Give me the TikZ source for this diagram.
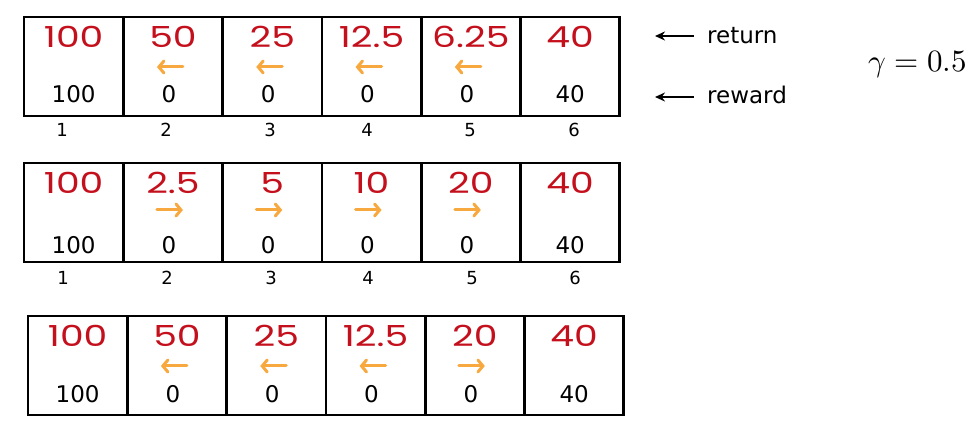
\documentclass[tikz,border=0pt]{standalone}
\usepackage{unicode-math}
\setmainfont{DejaVu Sans}
\setmathfont{Latin Modern Math}
\newfontfamily\handfont{Poppins}[FakeStretch=1.3]
\usetikzlibrary{arrows.meta}
\definecolor{hred}{RGB}{196,16,28}
\definecolor{horange}{RGB}{247,168,62}
\newcommand\drawrow[6]{%
  \foreach \c/\rt/\rw/\dr in {#6}{%
    \pgfmathsetmacro\cx{#2+(\c-0.5)*99.3}
    \node[cell] (r#1c\c) at (\cx,#3+49.5) {};
    \node[ret] (r#1c\c t) at (\cx,#3+20) {\rt};
    \ifnum\dr=0
      \node[rew] (r#1c\c w) at (\cx,#5) {\rw};
    \else
      \node[rew] (r#1c\c w) at (\cx-4,#5) {\rw};
      \draw[oarr] (\cx-3-\dr*13,#4) -- (\cx-3+\dr*13,#4);
    \fi
  }}
\begin{document}
\begin{tikzpicture}[x=1pt,y=-1pt,
  cell/.style={draw,line width=2.8pt,minimum width=99.3pt,minimum height=99pt,inner sep=0pt},
  ret/.style={font=\handfont\fontsize{29}{29}\selectfont,text=hred,inner sep=0pt},
  rew/.style={font=\fontsize{23}{23}\selectfont,inner sep=0pt},
  idx/.style={font=\fontsize{18}{18}\selectfont,inner sep=0pt},
  lbl/.style={font=\fontsize{23}{23}\selectfont,inner sep=0pt,anchor=base west},
  oarr/.style={draw=horange,line width=3pt,line cap=round,-{Straight Barb[length=5pt,width=12pt,line cap=round]}},
  karr/.style={draw,line width=2pt,-{Stealth[length=10pt,width=9pt]}}]
\useasboundingbox (0,0) rectangle (975,430);
\drawrow{1}{24}{17}{67}{94.5}{1/100/100/0,2/50/0/-1,3/25/0/-1,4/12.5/0/-1,5/6.25/0/-1,6/40/40/0}
\drawrow{2}{24}{163}{210}{245}{1/100/100/0,2/2.5/0/1,3/5/0/1,4/10/0/1,5/20/0/1,6/40/40/0}
\drawrow{3}{28}{316}{366}{394}{1/100/100/0,2/50/0/-1,3/25/0/-1,4/12.5/0/-1,5/20/0/1,6/40/40/0}
\foreach \c/\ix in {1/62,2/166,3/270,4/367,5/470,6/574}
  \node[idx] (ia\c) at (\ix,130) {\c};
\foreach \c/\ix in {1/63,2/167,3/271,4/368,5/472,6/575}
  \node[idx] (ib\c) at (\ix,278) {\c};
\node[lbl] (lret) at (707,44) {return};
\node[lbl] (lrew) at (707,104) {reward};
\coordinate (aret) at (694,36);
\coordinate (arew) at (694,97);
\draw[karr] (aret) -- (655,36);
\draw[karr] (arew) -- (655,97);
\node[inner sep=0pt,anchor=base west,font=\fontsize{31}{31}\selectfont] (gam) at (868,72) {$\gamma = 0.5$};
\end{tikzpicture}
\end{document}
